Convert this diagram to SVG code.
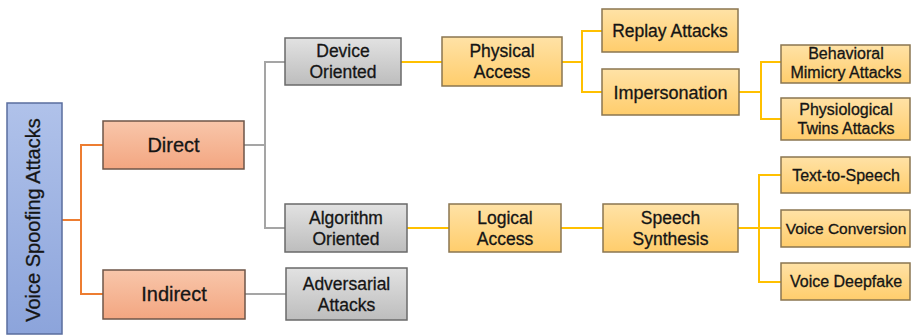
<svg xmlns="http://www.w3.org/2000/svg" width="911" height="336" viewBox="0 0 911 336">
  <defs>
    <linearGradient id="gBlue" x1="0" y1="0" x2="0" y2="1">
      <stop offset="0" stop-color="#B0C2EA"/>
      <stop offset="1" stop-color="#8CA4DB"/>
    </linearGradient>
    <linearGradient id="gOrange" x1="0" y1="0" x2="0" y2="1">
      <stop offset="0" stop-color="#F8C6AA"/>
      <stop offset="1" stop-color="#F3A681"/>
    </linearGradient>
    <linearGradient id="gGray" x1="0" y1="0" x2="0" y2="1">
      <stop offset="0" stop-color="#E2E2E2"/>
      <stop offset="1" stop-color="#BDBDBD"/>
    </linearGradient>
    <linearGradient id="gYellow" x1="0" y1="0" x2="0" y2="1">
      <stop offset="0" stop-color="#FFE2A6"/>
      <stop offset="1" stop-color="#FFCD6C"/>
    </linearGradient>
  </defs>
  <style>
    text { font-family: "Liberation Sans", Arial, sans-serif; fill: #151515; stroke: #151515; stroke-width: 0.3; text-anchor: middle; }
    .root { fill: url(#gBlue); stroke: #5A6E9E; stroke-width: 1.5; }
    .lvl1 { fill: url(#gOrange); stroke: #6E5548; stroke-width: 1.5; }
    .gray { fill: url(#gGray); stroke: #6A6A6A; stroke-width: 1.5; }
    .yel { fill: url(#gYellow); stroke: #8A7650; stroke-width: 1.5; }
    .c-or { stroke: #ED7D31; stroke-width: 2; fill: none; }
    .c-gr { stroke: #A5A5A5; stroke-width: 2; fill: none; }
    .c-ye { stroke: #FFC000; stroke-width: 2; fill: none; }
    .t20 { font-size: 20px; }
    .t17 { font-size: 17.5px; }
    .t18 { font-size: 18px; }
    .t16 { font-size: 16px; }
    .t15 { font-size: 15.5px; }
  </style>

  <!-- connectors -->
  <g id="connectors">
    <path class="c-or" d="M62,220 H81 M103,145 H81 V294 H103"/>
    <path class="c-gr" d="M244,145 H265 M285,62 H265 V228 H285 M245,294 H286"/>
    <path class="c-ye" d="M401,62 H442 M562,62 H582 M602,31 H582 V92 H602"/>
    <path class="c-ye" d="M739,92 H761 M781,62 H761 V119 H781"/>
    <path class="c-ye" d="M407,228 H449 M561,228 H603 M738,228 H781 M781,175 H759 V282 H781"/>
  </g>

  <!-- root -->
  <g id="voice-spoofing-attacks">
    <rect class="root" x="7" y="103" width="55" height="231"/>
    <text class="t20" transform="translate(40,220) rotate(-90)">Voice Spoofing Attacks</text>
  </g>

  <!-- level 1 -->
  <g id="direct">
    <rect class="lvl1" x="103" y="121" width="141" height="48"/>
    <text class="t20" x="173.5" y="152">Direct</text>
  </g>
  <g id="indirect">
    <rect class="lvl1" x="103" y="270" width="142" height="49"/>
    <text class="t20" x="174" y="301">Indirect</text>
  </g>

  <!-- level 2 -->
  <g id="device-oriented">
    <rect class="gray" x="285" y="38" width="116" height="47"/>
    <text class="t17" x="343" y="57">Device</text>
    <text class="t17" x="343" y="78">Oriented</text>
  </g>
  <g id="algorithm-oriented">
    <rect class="gray" x="285" y="204" width="122" height="48"/>
    <text class="t17" x="346" y="224">Algorithm</text>
    <text class="t17" x="346" y="245">Oriented</text>
  </g>
  <g id="adversarial-attacks">
    <rect class="gray" x="286" y="268" width="121" height="52"/>
    <text class="t17" x="346.5" y="290">Adversarial</text>
    <text class="t17" x="346.5" y="311">Attacks</text>
  </g>

  <!-- level 3 -->
  <g id="physical-access">
    <rect class="yel" x="442" y="37" width="120" height="49"/>
    <text class="t17" x="502" y="57">Physical</text>
    <text class="t17" x="502" y="78">Access</text>
  </g>
  <g id="logical-access">
    <rect class="yel" x="449" y="204" width="112" height="48"/>
    <text class="t17" x="505" y="224">Logical</text>
    <text class="t17" x="505" y="245">Access</text>
  </g>

  <!-- level 4 -->
  <g id="replay-attacks">
    <rect class="yel" x="602" y="9" width="136" height="43"/>
    <text class="t17" x="670" y="37">Replay Attacks</text>
  </g>
  <g id="impersonation">
    <rect class="yel" x="602" y="69" width="137" height="46"/>
    <text class="t18" x="670.5" y="99">Impersonation</text>
  </g>
  <g id="speech-synthesis">
    <rect class="yel" x="603" y="204" width="135" height="48"/>
    <text class="t17" x="670.5" y="224">Speech</text>
    <text class="t17" x="670.5" y="245">Synthesis</text>
  </g>

  <!-- level 5 -->
  <g id="behavioral-mimicry-attacks">
    <rect class="yel" x="781" y="45" width="129" height="38"/>
    <text class="t16" x="846" y="59">Behavioral</text>
    <text class="t16" x="846" y="78">Mimicry Attacks</text>
  </g>
  <g id="physiological-twins-attacks">
    <rect class="yel" x="781" y="98" width="129" height="42"/>
    <text class="t16" x="846" y="115">Physiological</text>
    <text class="t16" x="846" y="134">Twins Attacks</text>
  </g>
  <g id="text-to-speech">
    <rect class="yel" x="781" y="157" width="129" height="36"/>
    <text class="t16" x="846" y="181">Text-to-Speech</text>
  </g>
  <g id="voice-conversion">
    <rect class="yel" x="781" y="210" width="129" height="37"/>
    <text class="t15" x="846" y="234">Voice Conversion</text>
  </g>
  <g id="voice-deepfake">
    <rect class="yel" x="781" y="263" width="129" height="37"/>
    <text class="t16" x="846" y="287">Voice Deepfake</text>
  </g>
</svg>
